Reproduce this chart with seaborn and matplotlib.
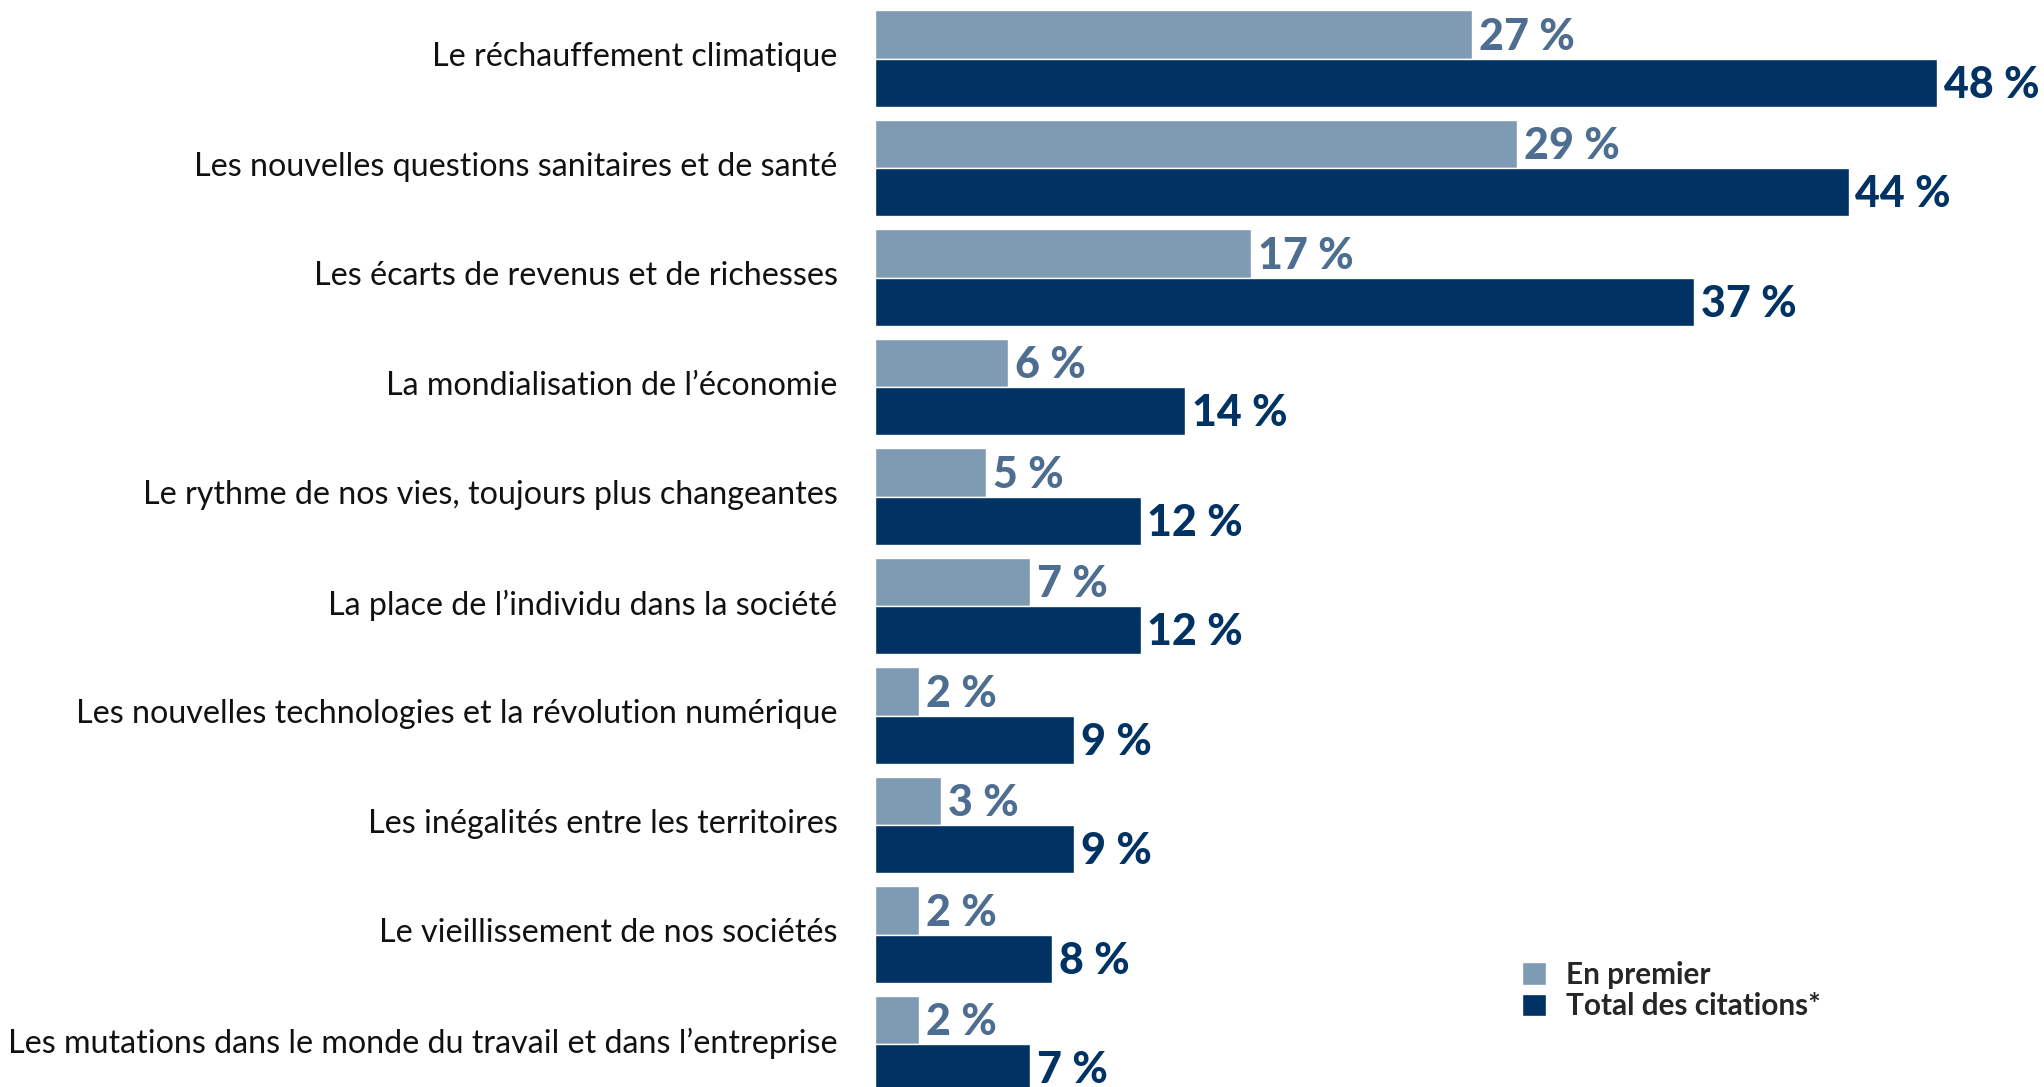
import pandas as pd
import matplotlib
matplotlib.use("Agg")
import matplotlib.pyplot as plt
import matplotlib.transforms as mtransforms
import seaborn as sns

# Data
categories = [
    "Le réchauffement climatique",
    "Les nouvelles questions sanitaires et de santé",
    "Les écarts de revenus et de richesses",
    "La mondialisation de l’économie",
    "Le rythme de nos vies, toujours plus changeantes",
    "La place de l’individu dans la société",
    "Les nouvelles technologies et la révolution numérique",
    "Les inégalités entre les territoires",
    "Le vieillissement de nos sociétés",
    "Les mutations dans le monde du travail et dans l’entreprise",
]
en_premier = [27, 29, 17, 6, 5, 7, 2, 3, 2, 2]
total_citations = [48, 44, 37, 14, 12, 12, 9, 9, 8, 7]
series_names = ["En premier", "Total des citations*"]

light = "#7f9ab3"
dark = "#003263"
light_txt = "#4d6d91"

df = pd.DataFrame({
    "Catégorie": categories * 2,
    "Série": [series_names[0]] * len(categories) + [series_names[1]] * len(categories),
    "Valeur": en_premier + total_citations,
})

sns.set_style("white")
plt.rcParams["font.family"] = ["Lato", "DejaVu Sans"]

fig = plt.figure(figsize=(20.44, 10.87), dpi=100)
ax = fig.add_axes([875 / 2044, 0, 1 - 875 / 2044, 1])

sns.barplot(data=df, y="Catégorie", x="Valeur", hue="Série", orient="h",
            palette=[light, dark], width=0.88, gap=0, ax=ax, saturation=1)

# value labels, nudged down a little so the digits sit centred on the bars
for cont, vals, col in zip(ax.containers, [en_premier, total_citations], [light_txt, dark]):
    anns = ax.bar_label(cont, labels=[f"{v} %" for v in vals], padding=5, color=col,
                        fontsize=31, fontweight="black")
    for a in anns:
        a.xyann = (5, -1.5)

ax.set_xlim(0, 1169 / 22.125)
ax.set_ylim(9.392, -0.535)
ax.set_xlabel("")
ax.set_ylabel("")
ax.set_xticks([])
ax.tick_params(axis="y", length=0, pad=27, labelsize=23.2, labelcolor="#111111")
up = mtransforms.ScaledTranslation(0, 3 / 72, fig.dpi_scale_trans)
for lbl in ax.get_yticklabels():
    lbl.set_transform(lbl.get_transform() + up)
sns.despine(ax=ax, left=True, bottom=True)

handles, labels = ax.get_legend_handles_labels()
ax.legend(handles, labels, loc="upper left", bbox_to_anchor=(1507 / 2044, 1 - 946 / 1087),
          bbox_transform=fig.transFigure, frameon=False, handlelength=0.8, handleheight=0.8,
          handletextpad=0.7, labelspacing=0.12, borderpad=0,
          prop={"weight": "bold", "size": 21.4})

fig.savefig("out.png", dpi=100)
